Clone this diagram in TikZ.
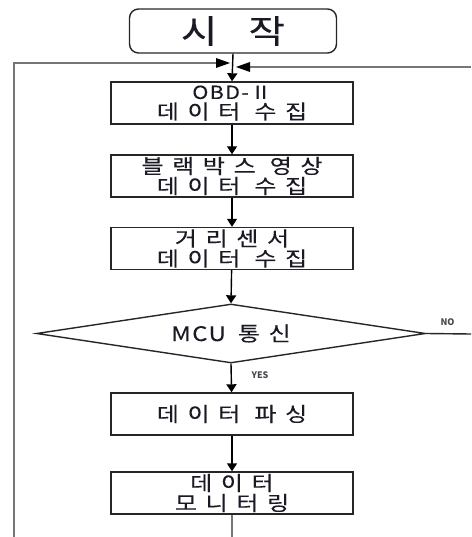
\documentclass[tikz,border=0pt]{standalone}
\usepackage{fontspec}
\usepackage{graphicx}
\setmainfont{Noto Sans CJK KR}
\newfontfamily\kr[LetterSpace=36,FakeBold=0.25]{Noto Sans CJK KR}
\newfontfamily\krl[LetterSpace=6,FakeBold=0.25]{Noto Sans CJK KR}
\newfontfamily\lbl{Noto Sans CJK KR}
\newcommand\wline[1]{\scalebox{1.2}[1]{#1}}
\usetikzlibrary{arrows.meta,shapes.geometric}
\definecolor{txt}{HTML}{1A1A24}
\definecolor{loopgray}{HTML}{767676}
\begin{document}
\begin{tikzpicture}[x=1pt,y=-1pt,
  stepbox/.style={draw=black!85,line width=1.4pt,rectangle,minimum width=242pt,minimum height=42pt,
    inner sep=0pt,align=center,font=\kr\fontsize{20}{20}\selectfont,text=txt},
  startbox/.style={draw=black!85,line width=1.4pt,rectangle,rounded corners=9pt,minimum width=207pt,
    minimum height=44pt,inner sep=0pt,font=\krl\fontsize{33}{34}\selectfont,text=txt},
  decision/.style={draw=black!85,line width=1.4pt,diamond,aspect=6.6,minimum width=389pt,minimum height=59pt,
    inner sep=0pt,font=\kr\fontsize{20}{20}\selectfont,text=txt},
  flow/.style={draw=black,line width=1.4pt,-{Triangle[width=10pt,length=8pt]}},
  loop/.style={draw=loopgray,line width=2.4pt},
  small/.style={font=\lbl\bfseries\fontsize{9}{10}\selectfont,text=txt!80}
]
\useasboundingbox (0,0) rectangle (471,537);
\node[startbox] (start) at (233,31) {\wline{시\hspace{26pt}작}};
\node[stepbox] (b1) at (232,103) {\wline{\krl\fontsize{18}{20}\selectfont OBD-Ⅱ}\\\wline{데이터 수집}};
\node[stepbox] (b2) at (232,176) {\wline{블랙박스 영상}\\\wline{데이터 수집}};
\node[stepbox] (b3) at (232,248.5) {\wline{거리센서}\\\wline{데이터 수집}};
\node[decision] (d) at (231,333.5) {\wline{{\krl MCU}\hspace{10pt}통신}};
\node[stepbox] (b4) at (232,414) {\wline{데이터 파싱}};
\node[stepbox] (b5) at (232,493) {\wline{데이터}\\\wline{모니터링}};
\coordinate (lbot) at (14,537);
\coordinate (ltop) at (14,63);
\coordinate (lin) at (230,63);
\coordinate (rin) at (236,67);
\coordinate (rend) at (471,67);
\coordinate (noend) at (471,334);
\coordinate (mbot) at (232,537);
\node[small,anchor=west] (no) at (437,322) {NO};
\node[small,anchor=west] (yes) at (248,375) {YES};
\draw[flow] (start.south) -- (b1.north);
\draw[flow] (b1) -- (b2);
\draw[flow] (b2) -- (b3);
\draw[flow] (b3) -- (d.north);
\draw[flow] (d.south) -- (b4);
\draw[flow] (b4) -- (b5);
\draw[draw=black!85,line width=1.4pt] (d.east) -- (noend);
\draw[draw=loopgray,line width=1.5pt] (b5.south) -- (mbot);
\draw[loop,line join=miter] (lbot) -- (ltop) -- ([xshift=-12pt]lin);
\draw[loop] (rend) -- ([xshift=12pt]rin);
\fill[black] (lin) -- ++(-14,-5) -- ++(0,10) -- cycle;
\fill[black] (rin) -- ++(14,-5) -- ++(0,10) -- cycle;
\end{tikzpicture}
\end{document}
